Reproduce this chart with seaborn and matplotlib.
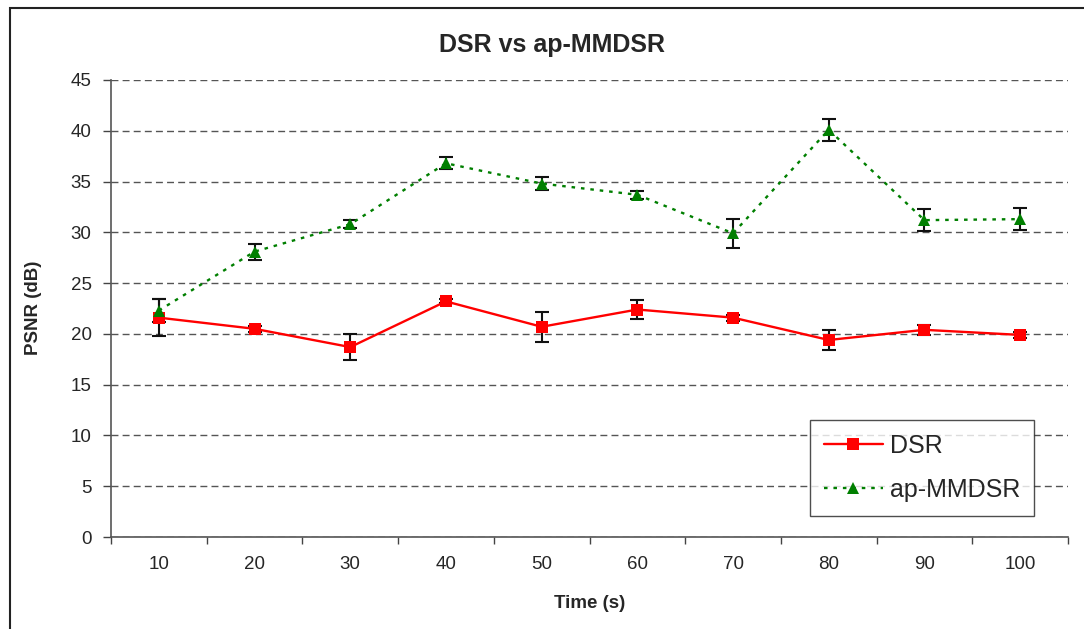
import matplotlib
matplotlib.use("Agg")
import matplotlib.pyplot as plt
import seaborn as sns
import pandas as pd
import numpy as np
from matplotlib.patches import Rectangle

times = ["10", "20", "30", "40", "50", "60", "70", "80", "90", "100"]
dsr = [21.6, 20.5, 18.7, 23.2, 20.7, 22.4, 21.6, 19.4, 20.4, 19.9]
dsr_err = [1.8, 0.3, 1.3, 0.2, 1.5, 0.9, 0.3, 1.0, 0.5, 0.3]
mmdsr = [22.3, 28.1, 30.8, 36.8, 34.8, 33.7, 29.9, 40.1, 31.2, 31.3]
mmdsr_err = [1.1, 0.8, 0.4, 0.6, 0.6, 0.4, 1.4, 1.1, 1.05, 1.1]

df = pd.DataFrame({
    "Time": times * 2,
    "PSNR": dsr + mmdsr,
    "Method": ["DSR"] * len(times) + ["ap-MMDSR"] * len(times),
})

sns.set_style("white")
plt.rcParams["font.family"] = ["Liberation Sans", "DejaVu Sans"]

fig = plt.figure(figsize=(10.84, 6.29), dpi=100)
ax = fig.add_axes([111 / 1084, 92 / 629, 957 / 1084, 457 / 629])

# outer chart border (Excel style)
fig.patches.append(Rectangle((10 / 1084, -0.1), 1.2, 1.1 - 8 / 629,
                             transform=fig.transFigure, fill=False,
                             edgecolor="#222222", linewidth=1.5, zorder=0))

# error bars first so markers sit on top
ax.errorbar(times, dsr, yerr=dsr_err, fmt="none", ecolor="#111111",
            elinewidth=1.5, capsize=5, capthick=1.5, zorder=2)
ax.errorbar(times, mmdsr, yerr=mmdsr_err, fmt="none", ecolor="#111111",
            elinewidth=1.5, capsize=5, capthick=1.5, zorder=2)

sns.lineplot(data=df, x="Time", y="PSNR", hue="Method", style="Method",
             palette={"DSR": "#ff0000", "ap-MMDSR": "#007f00"},
             markers={"DSR": "s", "ap-MMDSR": "^"},
             dashes={"DSR": "", "ap-MMDSR": (1.5, 2.5)},
             markersize=9, markeredgewidth=0, linewidth=1.7,
             sort=False, ax=ax, zorder=3)

ax.set_xlim(-0.5, len(times) - 0.5)
ax.set_ylim(0, 45)
ax.set_yticks(np.arange(0, 46, 5))
ax.set_xticks(np.arange(-0.5, len(times), 1), minor=True)
ax.tick_params(axis="x", which="major", length=0, pad=14, labelsize=13.5)
ax.tick_params(axis="x", which="minor", length=5, width=1, color="#444444", direction="out")
ax.tick_params(axis="y", length=6, width=1, color="#444444", direction="out", pad=8, labelsize=13.5)
ax.xaxis.set_ticks_position("bottom")
ax.yaxis.set_ticks_position("left")

ax.yaxis.grid(True, linestyle=(0, (5, 3)), color="#555555", linewidth=1)
ax.xaxis.grid(False)
ax.set_axisbelow(True)

for side in ["top", "right"]:
    ax.spines[side].set_visible(False)
for side in ["left", "bottom"]:
    ax.spines[side].set_color("#555555")
    ax.spines[side].set_linewidth(1.2)

ax.set_xlabel("")
ax.set_ylabel("")
fig.text(552 / 1084, 1 - 45 / 629, "DSR vs ap-MMDSR", ha="center", va="center",
         fontsize=18, fontweight="bold")
fig.text(590 / 1084, 1 - 603 / 629, "Time (s)", ha="center", va="center",
         fontsize=13.5, fontweight="bold")
fig.text(33 / 1084, 1 - 308 / 629, "PSNR (dB)", ha="center", va="center",
         fontsize=13.5, fontweight="bold", rotation=90)

handles, labels = ax.get_legend_handles_labels()
leg = ax.legend(handles, labels, loc="upper left",
                bbox_to_anchor=(810 / 1084, 1 - 420 / 629),
                bbox_transform=fig.transFigure, fontsize=18,
                frameon=True, fancybox=False, edgecolor="#222222",
                handlelength=2.35, borderpad=0.55, labelspacing=0.8,
                handletextpad=0.3, borderaxespad=0)
leg.get_frame().set_linewidth(1.0)

fig.savefig("out.png", dpi=100)
